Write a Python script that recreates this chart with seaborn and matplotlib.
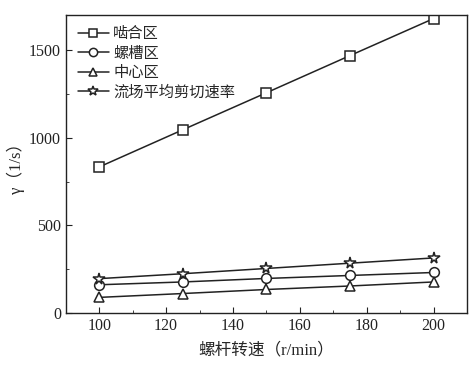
import pandas as pd
import seaborn as sns
import matplotlib.pyplot as plt
from matplotlib.ticker import MultipleLocator

# screw speed (r/min) and shear rate of each zone (1/s)
speed = [100, 125, 150, 175, 200]
mesh = [834, 1046, 1257, 1469, 1680]
groove = [162, 178, 198, 215, 232]
center = [90, 112, 135, 155, 178]
average = [197, 225, 255, 285, 315]

names = ["啮合区", "螺槽区", "中心区", "流场平均剪切速率"]
markers = ["s", "o", "^", "*"]

sns.set_style("ticks")
plt.rcParams['font.family'] = ['Liberation Serif', 'Noto Sans CJK SC']
plt.rcParams['axes.unicode_minus'] = False

data = pd.DataFrame({"speed": speed * 4,
                     "rate": mesh + groove + center + average,
                     "zone": sum([[n] * len(speed) for n in names], [])})

fig = plt.figure(figsize=(4.77, 3.68), dpi=100)
ax = fig.add_axes([0.138, 0.149, 0.841, 0.810])

for name, mk in zip(names, markers):
    sub = data[data["zone"] == name]
    sns.lineplot(data=sub, x="speed", y="rate", ax=ax, color="#222222",
                 linewidth=1.1, marker=mk, markersize=7 if mk != "*" else 8.5,
                 markerfacecolor="white", markeredgecolor="#222222",
                 markeredgewidth=1.1, label=name)

ax.set_xlim(90, 210)
ax.set_ylim(0, 1700)
ax.xaxis.set_major_locator(MultipleLocator(20))
ax.xaxis.set_minor_locator(MultipleLocator(10))
ax.yaxis.set_major_locator(MultipleLocator(500))
ax.yaxis.set_minor_locator(MultipleLocator(250))
ax.tick_params(which="both", direction="in", labelsize=11.5, colors="#222222")
ax.tick_params(which="major", length=4)
ax.tick_params(which="minor", length=2.5)
for s in ax.spines.values():
    s.set_linewidth(1.0)
    s.set_color("#222222")

ax.set_xlabel("螺杆转速（r/min）", fontsize=12, labelpad=6)
ax.set_ylabel("γ（1/s）", fontsize=12, labelpad=3)

ax.legend(loc="upper left", frameon=False, fontsize=11, handlelength=2.0,
          handletextpad=0.3, labelspacing=0.35, borderaxespad=0.4,
          markerscale=0.85)

fig.savefig("out.png", dpi=100)
